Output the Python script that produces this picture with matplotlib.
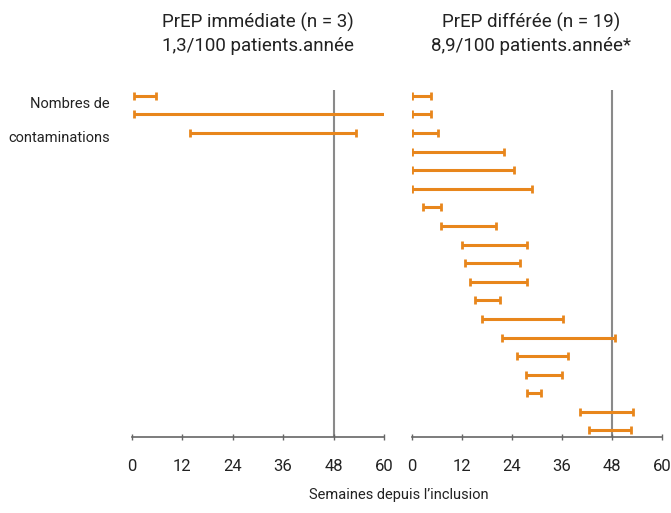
import matplotlib
matplotlib.use("Agg")
import matplotlib.pyplot as plt
import numpy as np

plt.rcParams['font.family'] = ['Roboto', 'DejaVu Sans']

# intervalles (semaines depuis l'inclusion)
imm_start = [0.5, 0.5, 13.8]
imm_end = [5.9, 60.6, 53.3]

diff_start = [0, 0, 0, 0, 0, 0, 2.6, 6.9, 12.0, 12.8, 14.0, 15.2, 16.7,
              21.5, 25.1, 27.3, 27.5, 40.4, 42.5]
diff_end = [4.6, 4.6, 6.2, 22.1, 24.5, 28.9, 7.0, 20.1, 27.5, 25.9, 27.5,
            21.1, 36.3, 48.7, 37.4, 35.9, 30.9, 53.1, 52.6]

ticks = [0, 12, 24, 36, 48, 60]
titles = ["PrEP immédiate (n = 3)\n1,3/100 patients.année",
          "PrEP différée (n = 19)\n8,9/100 patients.année*"]

orange = "#E8861C"
W, H = 671, 513

fig = plt.figure(figsize=(6.71, 5.13), dpi=100)
ax1 = fig.add_axes([131.5 / W, 76 / H, (384 - 131.5) / W, 347 / H])
ax2 = fig.add_axes([412 / W, 76 / H, (662 - 412) / W, 347 / H])

for ax, s, e in [(ax1, imm_start, imm_end), (ax2, diff_start, diff_end)]:
    s = np.array(s)
    e = np.array(e)
    rows = np.arange(len(s))
    ax.axvline(48, color="#8a8a8a", lw=1.5, zorder=1)
    ax.errorbar((s + e) / 2, rows, xerr=(e - s) / 2, fmt="none",
                ecolor=orange, elinewidth=2.2, capsize=3, capthick=2, zorder=3)
    ax.set_xlim(0, 60)
    ax.set_ylim(18.35, -0.31)
    ax.set_xticks(ticks)
    ax.set_yticks([])
    for sp in ["top", "right", "left"]:
        ax.spines[sp].set_visible(False)
    ax.spines["bottom"].set_color("#666666")
    ax.spines["bottom"].set_linewidth(1.2)
    ax.tick_params(axis="x", direction="inout", length=5, width=1,
                   color="#666666", labelsize=12, pad=13, labelcolor="#222222")
    ax.patch.set_alpha(0)

fig.text(258 / W, 1 - 34 / H, titles[0], ha="center", va="center",
         fontsize=13.5, color="#222222", linespacing=1.35)
fig.text(531 / W, 1 - 34 / H, titles[1], ha="center", va="center",
         fontsize=13.5, color="#222222", linespacing=1.35)

fig.text(110 / W, 1 - 104 / H, "Nombres de", ha="right", va="center",
         fontsize=10.5, color="#222222")
fig.text(110 / W, 1 - 138 / H, "contaminations", ha="right", va="center",
         fontsize=10.5, color="#222222")

fig.text(399 / W, 1 - 495 / H, "Semaines depuis l’inclusion", ha="center",
         va="center", fontsize=10.5, color="#222222")

fig.savefig("out.png", dpi=100)
